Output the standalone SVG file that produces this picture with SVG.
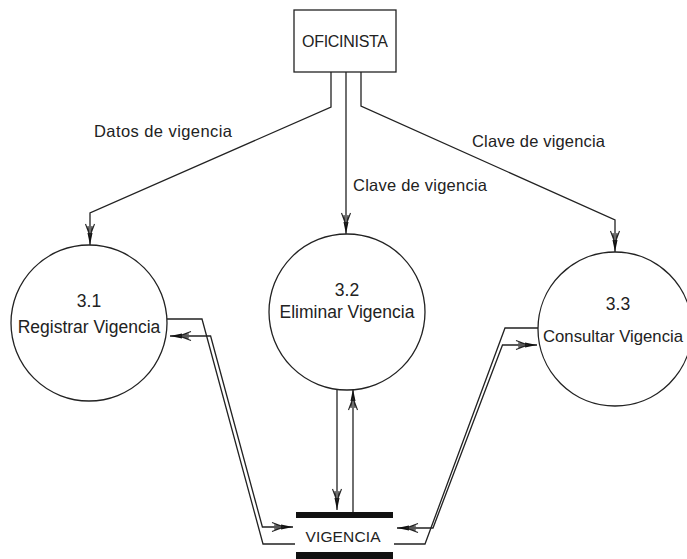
<svg xmlns="http://www.w3.org/2000/svg" width="687" height="559" viewBox="0 0 687 559">
<defs>
<style>
.t{font-family:"Liberation Sans",Arial,sans-serif;fill:#222;}
.lbl{font-size:16.5px;}
.pl{font-size:17.5px;}
.node{fill:#fff;stroke:#222;stroke-width:1.3;}
.flow{fill:none;stroke:#222;stroke-width:1.3;}
.bar{fill:#111;}
</style>
<marker id="arr" markerUnits="userSpaceOnUse" viewBox="-22 -6 24 12" markerWidth="24" markerHeight="12" refX="0" refY="0" orient="auto-start-reverse" overflow="visible">
<polygon points="0,0 -12,-2.5 -12,2.5" fill="#111"/>
<path d="M-9,0 L-21,-4.5 M-9,0 L-21,4.5 M-11,-1.2 L-19,-2 M-11,1.2 L-19,2" fill="none" stroke="#222" stroke-width="1.1"/>
</marker>
</defs>
<rect width="687" height="559" fill="#fff"/>

<g id="connectors">
<path class="flow" d="M331,72 V107 L90,213 V245" marker-end="url(#arr)"/>
<path class="flow" d="M346,72 V234" marker-end="url(#arr)"/>
<path class="flow" d="M361,72 V106 L615,220 V252" marker-end="url(#arr)"/>
<path class="flow" d="M337,389 V510" marker-end="url(#arr)"/>
<path class="flow" d="M353,512 V389" marker-end="url(#arr)"/>
<path class="flow" d="M167,319 H202 L263,544 H295"/>
<path class="flow" d="M293,527 H262.4 L210.6,336 H170" marker-start="url(#arr)" marker-end="url(#arr)"/>
<path class="flow" d="M538,328 H505 L425,544 H394"/>
<path class="flow" d="M397,528 H433 L502.5,345 H537" marker-start="url(#arr)" marker-end="url(#arr)"/>
<text class="t lbl" x="94" y="137" textLength="138">Datos de vigencia</text>
<text class="t lbl" x="353" y="191" textLength="134">Clave de vigencia</text>
<text class="t lbl" x="472" y="147" textLength="133">Clave de vigencia</text>
</g>

<g id="oficinista">
<rect class="node" x="294" y="10" width="102" height="62"/>
<text class="t" x="345" y="47" font-size="16" text-anchor="middle" textLength="86">OFICINISTA</text>
</g>

<g id="p31">
<circle class="node" cx="89" cy="323" r="78"/>
<text class="t pl" x="89" y="307" text-anchor="middle">3.1</text>
<text class="t pl" x="89" y="333" text-anchor="middle">Registrar Vigencia</text>
</g>

<g id="p32">
<circle class="node" cx="347" cy="312" r="78"/>
<text class="t pl" x="347" y="296" text-anchor="middle">3.2</text>
<text class="t pl" x="347" y="318" text-anchor="middle">Eliminar Vigencia</text>
</g>

<g id="p33">
<circle class="node" cx="615" cy="329" r="77"/>
<text class="t pl" x="618" y="310" text-anchor="middle">3.3</text>
<text class="t" x="543" y="342" font-size="17" textLength="140" lengthAdjust="spacingAndGlyphs">Consultar Vigencia</text>
</g>

<g id="vigencia">
<rect class="bar" x="296" y="512" width="97" height="6"/>
<rect class="bar" x="296" y="552" width="97" height="7"/>
<text class="t" x="343" y="542" font-size="15.5" text-anchor="middle" textLength="75">VIGENCIA</text>
</g>
</svg>
